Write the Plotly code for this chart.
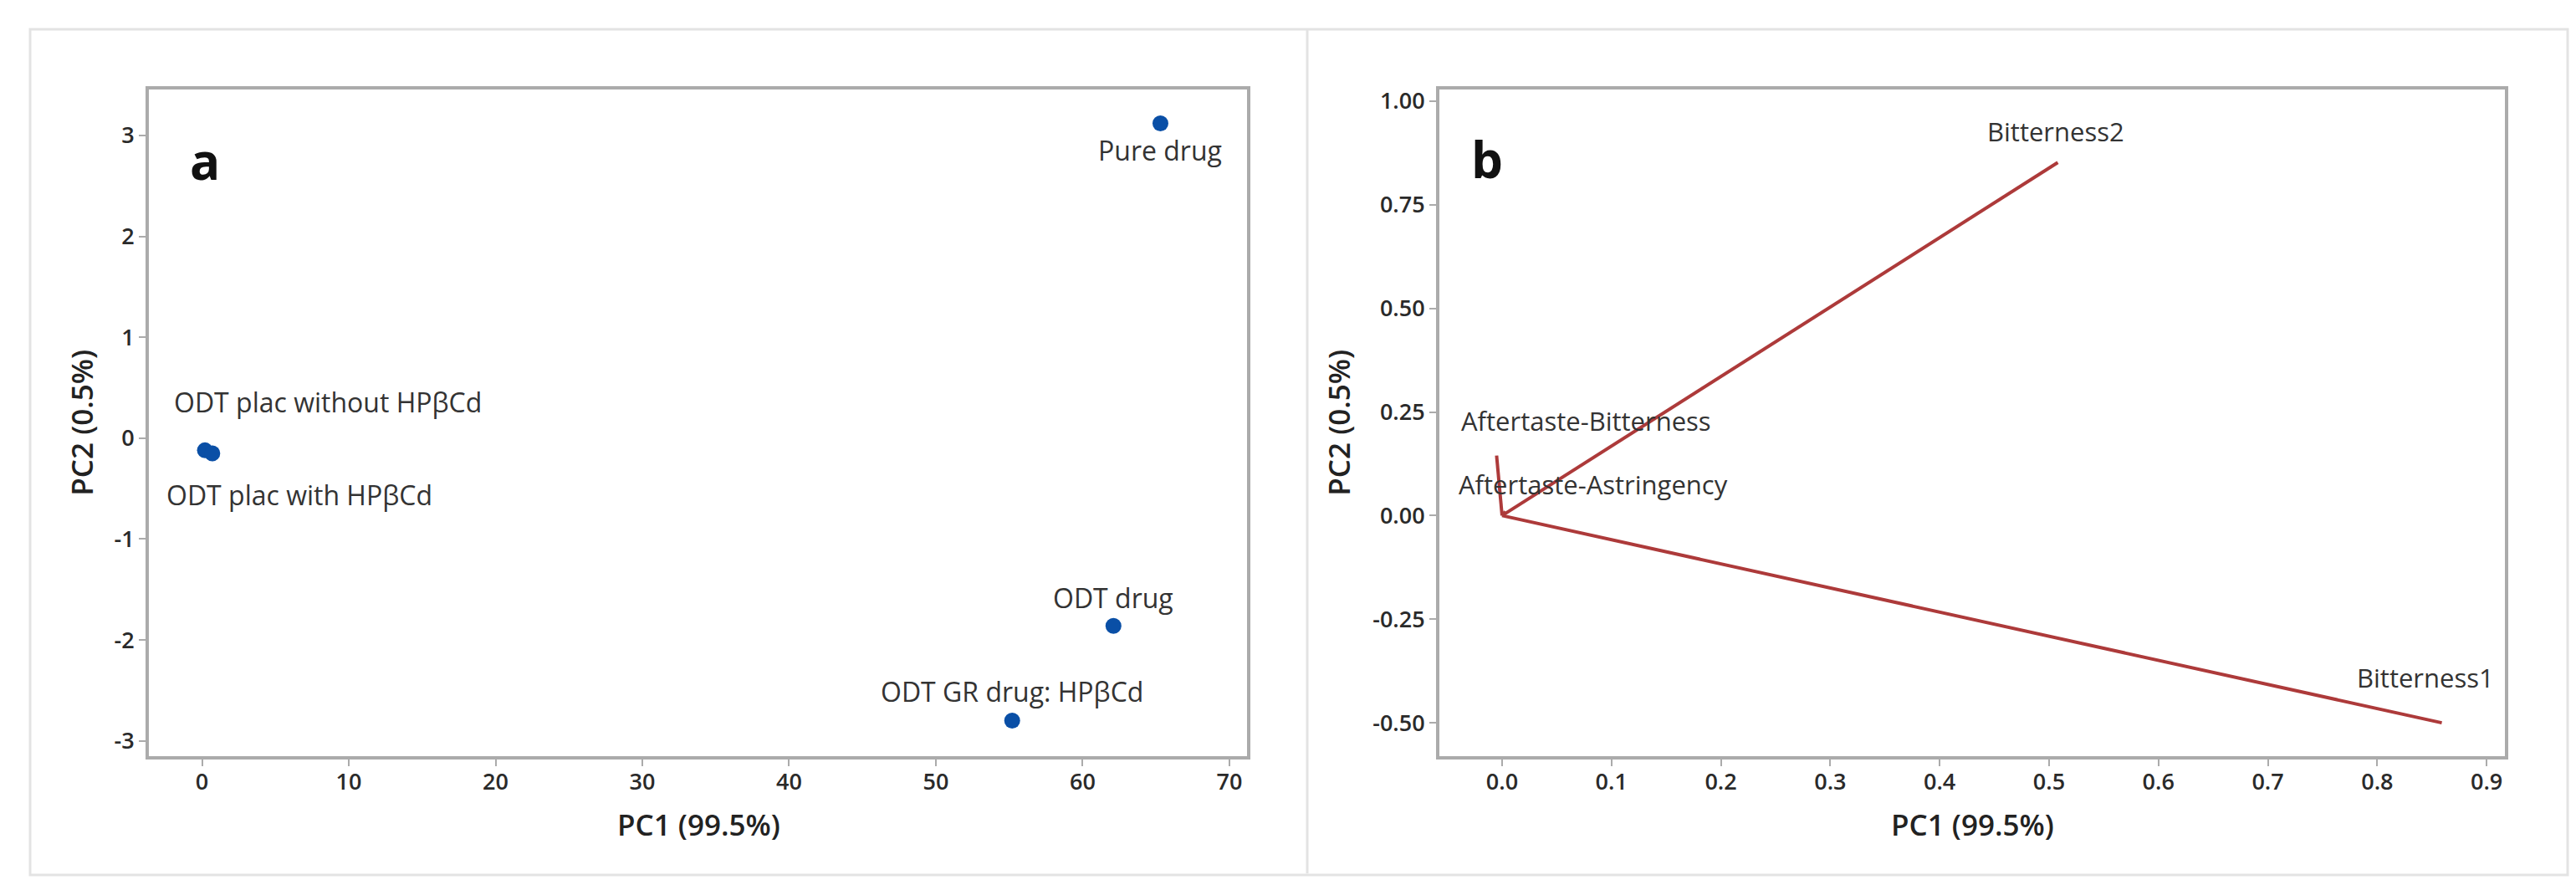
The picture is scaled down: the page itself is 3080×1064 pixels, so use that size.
import plotly.graph_objects as go

W, H = 3080, 1064

# panel a: PCA scores
samples = ["Pure drug", "ODT drug", "ODT GR drug: HPβCd",
           "ODT plac without HPβCd", "ODT plac with HPβCd"]
pc1_scores = [65.3, 62.1, 55.2, 0.2, 0.7]
pc2_scores = [3.12, -1.86, -2.80, -0.12, -0.15]

# panel b: loadings
attributes = ["Bitterness2", "Bitterness1", "Aftertaste-Bitterness", "Aftertaste-Astringency"]
pc1_loadings = [0.508, 0.859, -0.005, 0.003]
pc2_loadings = [0.852, -0.500, 0.145, 0.01]

a_xticks = [0, 10, 20, 30, 40, 50, 60, 70]
a_yticks = [-3, -2, -1, 0, 1, 2, 3]
a_yticklabels = ["-3", "-2", "-1", "0", "1", "2", "3"]
b_xticks = [0.0, 0.1, 0.2, 0.3, 0.4, 0.5, 0.6, 0.7, 0.8, 0.9]
b_xticklabels = ["0.0", "0.1", "0.2", "0.3", "0.4", "0.5", "0.6", "0.7", "0.8", "0.9"]
b_yticks = [-0.5, -0.25, 0.0, 0.25, 0.5, 0.75, 1.0]
b_yticklabels = ["-0.50", "-0.25", "0.00", "0.25", "0.50", "0.75", "1.00"]

# label offsets in pixels from each point / vector end
sample_shift = [(0, -32), (0, 34), (0, 35), (147, 58), (104, -50)]
attr_shift = [(-2, 37), (-20, 54), (107, 42), (105, 32)]

FONT = "Open Sans"
TXT = "#333333"
FRAME = "#ababab"


def px(x):
    return x / W


def py(y):
    return 1 - y / H


fig = go.Figure()

fig.add_trace(go.Scatter(
    x=pc1_scores, y=pc2_scores, mode="markers",
    marker=dict(color="#0a4fa6", size=19),
    xaxis="x", yaxis="y", showlegend=False, hoverinfo="text", text=samples))

for name, lx, ly in zip(attributes, pc1_loadings, pc2_loadings):
    fig.add_trace(go.Scatter(
        x=[0, lx], y=[0, ly], mode="lines",
        line=dict(color="#ad3a3a", width=4),
        xaxis="x2", yaxis="y2", showlegend=False, name=name))

annotations = []
for name, x, y, (dx, dy) in zip(samples, pc1_scores, pc2_scores, sample_shift):
    annotations.append(dict(x=x, y=y, xref="x", yref="y", text=name, showarrow=False,
                            xanchor="center", yanchor="middle", xshift=dx, yshift=dy,
                            font=dict(family=FONT, size=32, color=TXT)))
for name, x, y, (dx, dy) in zip(attributes, pc1_loadings, pc2_loadings, attr_shift):
    annotations.append(dict(x=x, y=y, xref="x2", yref="y2", text=name, showarrow=False,
                            xanchor="center", yanchor="middle", xshift=dx, yshift=dy,
                            font=dict(family=FONT, size=31, color=TXT)))


def paper_text(x, y, text, font, angle=0):
    return dict(x=px(x), y=py(y), xref="paper", yref="paper", text=text, showarrow=False,
                xanchor="center", yanchor="middle", textangle=angle, font=font)


# panel letters and axis titles
title_font = dict(family=FONT, size=35, color="#222222", weight=600)
letter_font = dict(family=FONT, size=60, color="#111111", weight="bold")
annotations += [
    paper_text(237, 180, "a", letter_font),
    paper_text(1770, 178, "b", letter_font),
    paper_text(827, 977, "PC1 (99.5%)", title_font),
    paper_text(2350, 977, "PC1 (99.5%)", title_font),
    paper_text(90, 495, "PC2 (0.5%)", title_font, -90),
    paper_text(1593, 495, "PC2 (0.5%)", title_font, -90),
]

axis_common = dict(showgrid=False, zeroline=False, showline=True, mirror=True,
                   linecolor=FRAME, linewidth=4, ticks="outside", ticklen=8,
                   tickwidth=2, tickcolor=FRAME,
                   tickfont=dict(family=FONT, size=27, color="#2a2a2a", weight=600))

fig.update_layout(
    width=W, height=H,
    margin=dict(l=0, r=0, t=0, b=0),
    paper_bgcolor="white", plot_bgcolor="white",
    xaxis=dict(domain=[px(170), px(1483)], range=[-3.62, 71.2],
               tickvals=a_xticks, anchor="y", ticklabelstandoff=-4, **axis_common),
    yaxis=dict(domain=[py(895), py(94)], range=[-3.15, 3.46],
               tickvals=a_yticks, ticktext=a_yticklabels, anchor="x", **axis_common),
    xaxis2=dict(domain=[px(1713), px(2987)], range=[-0.0573, 0.9167],
                tickvals=b_xticks, ticktext=b_xticklabels, anchor="y2",
                ticklabelstandoff=-4, **axis_common),
    yaxis2=dict(domain=[py(895), py(94)], range=[-0.58, 1.029],
                tickvals=b_yticks, ticktext=b_yticklabels, anchor="x2", **axis_common),
    annotations=annotations,
    shapes=[
        dict(type="rect", xref="paper", yref="paper", x0=px(28), x1=px(3062),
             y0=py(1038), y1=py(22), line=dict(color="#e3e3e3", width=3)),
        dict(type="line", xref="paper", yref="paper", x0=px(1555), x1=px(1555),
             y0=py(1036), y1=py(22), line=dict(color="#e3e3e3", width=3)),
    ],
)

fig.write_html("out.html")
